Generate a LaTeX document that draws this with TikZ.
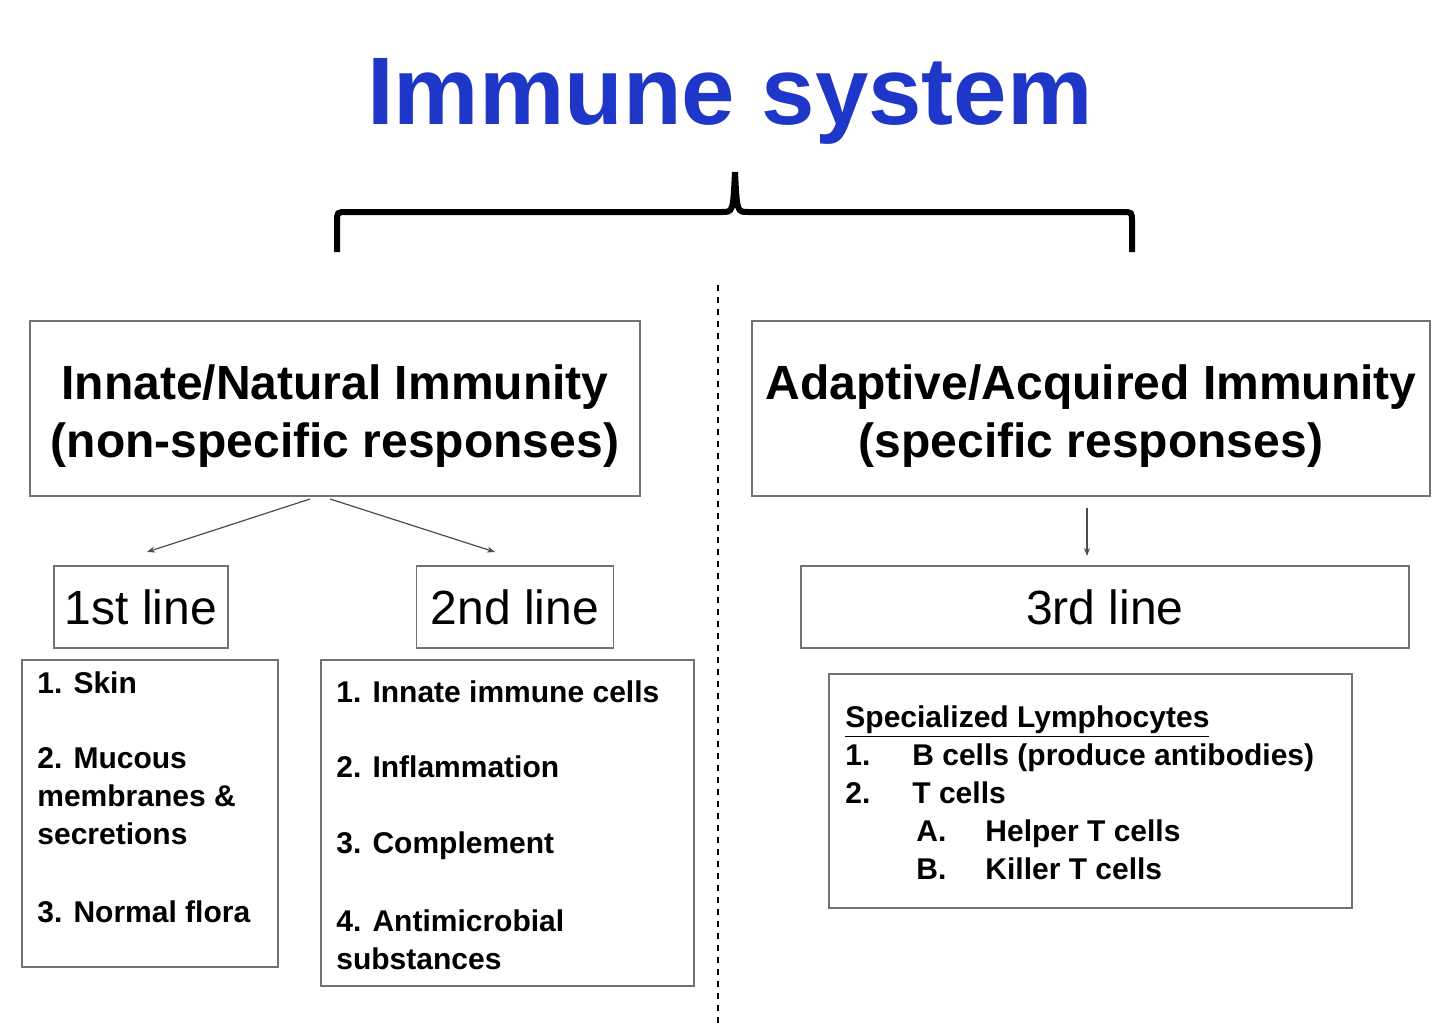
\documentclass[tikz,border=0pt]{standalone}
\usepackage{fontspec}
\setmainfont{Liberation Sans}
\usetikzlibrary{arrows.meta}
\begin{document}
\begin{tikzpicture}[x=0.5pt,y=-0.5pt,
  box/.style={draw=black!55,line width=0.6pt},
  big/.style={font=\fontsize{24}{29}\selectfont\bfseries,align=center},
  line/.style={font=\fontsize{24}{29}\selectfont},
  item/.style={font=\fontsize{15}{19}\selectfont\bfseries,anchor=base west,inner sep=0},
  arr/.style={draw=black!70,line width=0.6pt,-{Stealth[length=4pt,width=3pt]}}]
\useasboundingbox (0,0) rectangle (1440,1028);
\definecolor{tblue}{RGB}{30,55,200}
\node[font=\fontsize{48}{58}\selectfont\bfseries,text=tblue] (title) at (730,101) {Immune system};
% brace
\draw[line width=3pt] (337,252) -- (337,222) .. controls (337,212) .. (347,212) -- (722,212) .. controls (733,212) .. (735,172) .. controls (737,212) .. (748,212) -- (1122,212) .. controls (1132,212) .. (1132,222) -- (1132,252);
\draw[dashed,line width=0.8pt] (718,285) -- (718,1028);
% boxes
\draw[box] (30,321) rectangle (640,496);
\node[big] (innate) at (335,416) {Innate/Natural Immunity\\(non-specific responses)};
\draw[box] (752,321) rectangle (1430,496);
\node[big] (adaptive) at (1091,416) {Adaptive/Acquired Immunity\\(specific responses)};
\node[box,line,minimum width=87pt,minimum height=41pt] (l1) at (141,607) {1st line};
\node[box,line,minimum width=98.5pt,minimum height=41pt] (l2) at (515,607) {2nd line};
\node[box,line,minimum width=304pt,minimum height=41pt] (l3) at (1105,607) {3rd line};
\coordinate (a1) at (310,499); \coordinate (a2) at (330,499); \coordinate (a3) at (1087,508);
\draw[arr] (a1) -- (147,552);
\draw[arr] (a2) -- (495,552);
\draw[arr] (a3) -- (1087,556);
% list boxes
\draw[box] (22,660) rectangle (278,967);
\node[item] (s1) at (37,693) {1. Skin};
\node[item] (s2) at (37,768) {2. Mucous};
\node[item] (s3) at (37,806) {membranes \&};
\node[item] (s4) at (37,844) {secretions};
\node[item] (s5) at (37,922) {3. Normal flora};
\draw[box] (321,660) rectangle (694,986);
\node[item] (t1) at (336,702) {1. Innate immune cells};
\node[item] (t2) at (336,777) {2. Inflammation};
\node[item] (t3) at (336,853) {3. Complement};
\node[item] (t4) at (336,931) {4. Antimicrobial};
\node[item] (t5) at (336,969) {substances};
\draw[box] (829,674) rectangle (1352,908);
\node[item] (u0) at (845,727) {\underline{Specialized Lymphocytes}};
\node[item] (u1) at (845,765) {1.};
\node[item] (u1t) at (912,765) {B cells (produce antibodies)};
\node[item] (u2) at (845,803) {2.};
\node[item] (u2t) at (912,803) {T cells};
\node[item] (u3) at (916,841) {A.};
\node[item] (u3t) at (985,841) {Helper T cells};
\node[item] (u4) at (916,879) {B.};
\node[item] (u4t) at (985,879) {Killer T cells};
\end{tikzpicture}
\end{document}
